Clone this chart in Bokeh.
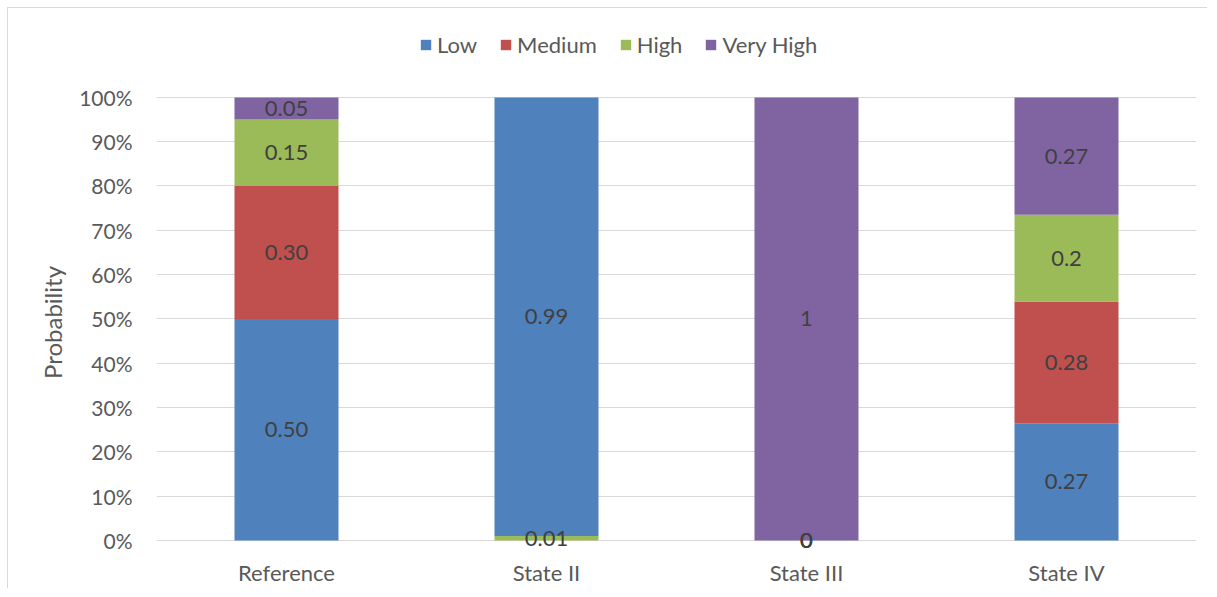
from bokeh.plotting import figure
from bokeh.models import (ColumnDataSource, FactorRange, Range1d, Legend, LegendItem,
                          NumeralTickFormatter, FixedTicker)
from bokeh.core.properties import value
from bokeh.embed import file_html
from bokeh.resources import INLINE

# ---- data ----
categories = ["Reference", "State II", "State III", "State IV"]
series = ["Low", "Medium", "High", "Very High"]
low = [0.50, 0.99, 0.0, 0.27]
medium = [0.30, 0.0, 0.0, 0.28]
high = [0.15, 0.01, 0.0, 0.20]
very_high = [0.05, 0.0, 1.0, 0.27]
labels_low = ["0.50", "0.99", "0", "0.27"]
labels_medium = ["0.30", "", "0", "0.28"]
labels_high = ["0.15", "0.01", "0", "0.2"]
labels_very_high = ["0.05", "", "1", "0.27"]
y_ticks = [0.0, 0.1, 0.2, 0.3, 0.4, 0.5, 0.6, 0.7, 0.8, 0.9, 1.0]
y_title = "Probability"

colors = {"Low": "#4F81BD", "Medium": "#C0504D", "High": "#9BBB59", "Very High": "#8064A2"}
vals = {"Low": low, "Medium": medium, "High": high, "Very High": very_high}
labs = {"Low": labels_low, "Medium": labels_medium, "High": labels_high,
        "Very High": labels_very_high}
# stacking order as drawn in the source chart
default_order = series
stack_order = {"State II": ["High", "Low", "Medium", "Very High"]}

FONT = "Lato"
FS = "22px"

# compute 100% stacked segments
seg = {s: {"x": [], "bottom": [], "top": [], "mid": [], "label": []} for s in series}
for i, c in enumerate(categories):
    total = sum(vals[s][i] for s in series)
    acc = 0.0
    for s in stack_order.get(c, default_order):
        frac = vals[s][i] / total
        seg[s]["x"].append(c)
        seg[s]["bottom"].append(acc)
        seg[s]["top"].append(acc + frac)
        seg[s]["mid"].append(acc + frac / 2)
        seg[s]["label"].append(labs[s][i])
        acc += frac

# frame spans a little beyond 0..1 so the legend and baseline labels are not clipped
p = figure(x_range=FactorRange(*categories), y_range=Range1d(-0.025, 1.16),
           frame_width=1040, frame_height=525,
           min_border_left=148, min_border_right=11, min_border_top=18, min_border_bottom=36,
           output_backend="svg", toolbar_location=None)
p.x_range.range_padding = 0
p.outline_line_color = None
p.background_fill_color = "white"
p.border_fill_color = "white"
p.styles = {"margin-left": "7px", "margin-top": "7px",
            "border-top": "1px solid #D9D9D9", "border-left": "1px solid #D9D9D9"}

items = []
for s in series:
    src = ColumnDataSource(seg[s])
    r = p.vbar(x="x", bottom="bottom", top="top", width=0.4, source=src,
               fill_color=colors[s], line_color=None)
    items.append(LegendItem(label=s, renderers=[r]))

for s in series:
    d = {k: [] for k in ("x", "y", "t")}
    for x, m, t in zip(seg[s]["x"], seg[s]["mid"], seg[s]["label"]):
        if t != "":
            d["x"].append(x)
            d["y"].append(m)
            d["t"].append(t)
    p.text(x="x", y="y", text="t", source=ColumnDataSource(d), text_align="center",
           text_baseline="middle", text_font=value(FONT), text_font_size=FS,
           text_color="#404040")

# axes
p.xgrid.grid_line_color = None
p.ygrid.grid_line_color = "#D9D9D9"
p.ygrid.ticker = FixedTicker(ticks=y_ticks)

p.yaxis.ticker = FixedTicker(ticks=y_ticks)
p.yaxis.formatter = NumeralTickFormatter(format="0%")
p.yaxis.axis_line_color = None
p.yaxis.major_tick_line_color = None
p.yaxis.minor_tick_line_color = None
p.yaxis.major_tick_out = 0
p.yaxis.major_label_standoff = 24
p.yaxis.major_label_text_font = FONT
p.yaxis.major_label_text_font_size = "21px"
p.yaxis.major_label_text_color = "#595959"
# trailing no-break spaces centre the title on the 0-100% span rather than the whole frame
p.yaxis.axis_label = y_title + "\u00a0" * 11
p.yaxis.axis_label_text_font = FONT
p.yaxis.axis_label_text_font_size = "24px"
p.yaxis.axis_label_text_font_style = "normal"
p.yaxis.axis_label_text_color = "#595959"
p.yaxis.axis_label_standoff = 9

p.xaxis.axis_line_color = None
p.xaxis.major_tick_line_color = None
p.xaxis.minor_tick_line_color = None
p.xaxis.major_tick_out = 0
p.xaxis.major_label_standoff = 7
p.xaxis.major_label_text_font = FONT
p.xaxis.major_label_text_font_size = FS
p.xaxis.major_label_text_color = "#595959"

legend = Legend(items=items, orientation="horizontal", location=(263, 493),
                glyph_width=13, glyph_height=13, label_standoff=5, spacing=22,
                padding=0, margin=0, border_line_color=None, background_fill_alpha=0,
                label_text_font=FONT, label_text_font_size=FS, label_text_color="#595959")
p.add_layout(legend, "center")

open("out.html", "w").write(file_html(p, INLINE))
